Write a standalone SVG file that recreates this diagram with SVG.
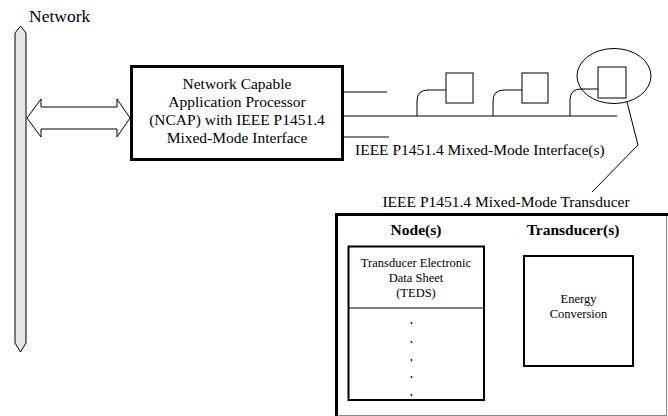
<svg xmlns="http://www.w3.org/2000/svg" width="668" height="416" viewBox="0 0 668 416">
<style>
text{font-family:"Liberation Serif","Times New Roman",serif;fill:#000}
.t15{font-size:15.5px}
.t12{font-size:12.5px}
.b{font-weight:bold;font-size:15.5px}
.ln{fill:none;stroke:#000;stroke-width:1}
.box{fill:#fff;stroke:#000;stroke-width:1}
</style>
<rect width="668" height="416" fill="#fff"/>
<g id="network">
<polygon points="20.5,26 26,33 26,343 20.5,352 15,343 15,33" fill="#e6e6e6" stroke="#000" stroke-width="1"/>
<text x="29" y="22" style="font-size:17.5px">Network</text>
</g>
<g id="connectors">
<polygon points="27,118 41,99 41,107 117,107 117,99 130,118 117,137 117,129 41,129 41,137" fill="#fff" stroke="#000" stroke-width="1"/>
<line class="ln" x1="343" y1="92" x2="387" y2="92"/>
<line class="ln" x1="343" y1="116" x2="617" y2="116"/>
<line class="ln" x1="343" y1="137" x2="389" y2="137"/>
<path class="ln" d="M417,116 V101 Q417,90 428,90 H446"/>
<path class="ln" d="M493,116 V101 Q493,90 504,90 H522"/>
<path class="ln" d="M570,116 V100 Q570,89 581,89 H598"/>
<polyline class="ln" points="627,102 638,145 592,192"/>
<text class="t15" x="355" y="155">IEEE P1451.4 Mixed-Mode Interface(s)</text>
</g>
<g id="ncap">
<rect x="131.5" y="66.5" width="211" height="93" fill="#fff" stroke="#000" stroke-width="3"/>
<text class="t15" text-anchor="middle" x="237" y="89">Network Capable</text>
<text class="t15" text-anchor="middle" x="237" y="107">Application Processor</text>
<text class="t15" text-anchor="middle" x="237" y="125">(NCAP) with IEEE P1451.4</text>
<text class="t15" text-anchor="middle" x="237" y="143">Mixed-Mode Interface</text>
</g>
<g id="node1"><rect class="box" x="446" y="73" width="27" height="30"/></g>
<g id="node2"><rect class="box" x="522" y="73" width="26" height="30"/></g>
<g id="node3"><rect class="box" x="598" y="67" width="28" height="31"/>
<ellipse cx="614" cy="76" rx="37" ry="27.5" fill="none" stroke="#000" stroke-width="1"/></g>
<g id="transducer">
<text class="t15" text-anchor="middle" x="506" y="207">IEEE P1451.4 Mixed-Mode Transducer</text>
<line x1="666.5" y1="215" x2="666.5" y2="416" stroke="#888" stroke-width="1"/>
<line x1="336" y1="415.5" x2="667" y2="415.5" stroke="#888" stroke-width="1"/>
<path d="M336.5,416 V214.5 H668" fill="none" stroke="#000" stroke-width="3"/>
<text class="b" text-anchor="middle" x="416" y="235">Node(s)</text>
<text class="b" text-anchor="middle" x="573" y="235">Transducer(s)</text>
</g>
<g id="teds">
<rect x="348.5" y="246.5" width="135.5" height="153.5" fill="#fff" stroke="#000" stroke-width="2"/>
<line class="ln" x1="349" y1="308" x2="484" y2="308"/>
<text class="t12" text-anchor="middle" x="416" y="267">Transducer Electronic</text>
<text class="t12" text-anchor="middle" x="416" y="282">Data Sheet</text>
<text class="t12" text-anchor="middle" x="416" y="297">(TEDS)</text>
<g fill="#000">
<circle cx="411.5" cy="323" r="0.9"/>
<circle cx="411.5" cy="342" r="0.9"/>
<circle cx="411.5" cy="360" r="0.9"/>
<circle cx="411.5" cy="377" r="0.9"/>
<circle cx="411.5" cy="395" r="0.9"/>
</g>
</g>
<g id="energy">
<rect x="524" y="256" width="109" height="110" fill="#fff" stroke="#000" stroke-width="2"/>
<text class="t12" text-anchor="middle" x="578.5" y="303">Energy</text>
<text class="t12" text-anchor="middle" x="578.5" y="318">Conversion</text>
</g>
</svg>
